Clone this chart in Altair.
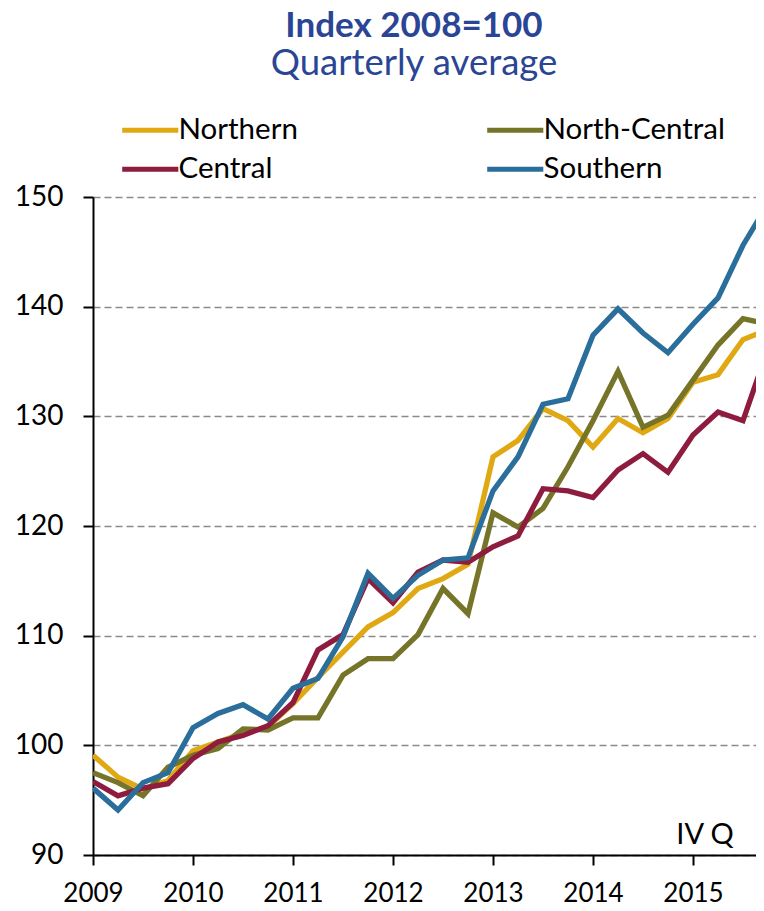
import altair as alt
import pandas as pd

# Quarterly index values, 2009 Q1 .. 2015 Q4
quarters = [2009 + 0.25 * i for i in range(28)]
northern = [99.1, 97.1, 96.0, 96.8, 99.5, 100.3, 101.1, 101.7, 103.8, 106.2, 108.5, 110.8, 112.1, 114.3,
            115.2, 116.5, 126.3, 127.8, 130.7, 129.6, 127.2, 129.8, 128.5, 129.8, 133.1, 133.8, 137.0, 137.9]
north_central = [97.5, 96.6, 95.4, 98.0, 99.1, 99.7, 101.5, 101.4, 102.5, 102.5, 106.4, 107.9, 107.9, 110.1,
                 114.3, 112.0, 121.2, 119.9, 121.6, 125.4, 129.6, 134.1, 129.0, 130.1, 133.3, 136.5, 138.9, 138.4]
central = [96.7, 95.4, 96.1, 96.5, 98.8, 100.3, 100.9, 101.8, 103.9, 108.7, 110.1, 115.2, 113.0, 115.8,
           116.9, 116.7, 118.1, 119.1, 123.4, 123.2, 122.6, 125.1, 126.6, 124.9, 128.3, 130.4, 129.6, 136.2]
southern = [96.1, 94.1, 96.6, 97.5, 101.6, 102.9, 103.7, 102.4, 105.2, 106.1, 109.9, 115.7, 113.4, 115.5,
            116.9, 117.1, 123.2, 126.3, 131.1, 131.6, 137.4, 139.8, 137.6, 135.8, 138.4, 140.8, 145.6, 149.4]

series_names = ["Northern", "North-Central", "Central", "Southern"]
# legend fills column by column: this order gives rows Northern|North-Central, Central|Southern
legend_order = ["Northern", "Central", "North-Central", "Southern"]
legend_colors = ["#E0A913", "#8E1C3E", "#767428", "#2A6E9B"]
year_ticks = [2009, 2010, 2011, 2012, 2013, 2014, 2015]
y_ticks = [90, 100, 110, 120, 130, 140, 150]

note_text = ["IV Q"]
note_x = [2015.12]
note_y = [91.0]

rows = []
for k, (name, vals) in enumerate(zip(series_names, [northern, north_central, central, southern])):
    for q, v in zip(quarters, vals):
        rows.append({"quarter": q, "value": v, "region": name, "layer": k})
df = pd.DataFrame(rows)
notes = pd.DataFrame({"text": note_text, "x": note_x, "y": note_y})

FONT = "Lato"
BLUE = "#2B4595"

x_scale = alt.Scale(domain=[2009, 2015.63], nice=False, zero=False)
y_scale = alt.Scale(domain=[90, 150], nice=False, zero=False)

lines = alt.Chart(df).mark_line(strokeWidth=5.3, clip=True, strokeJoin="miter").encode(
    x=alt.X("quarter:Q", scale=x_scale, title=None,
            axis=alt.Axis(values=year_ticks, format="d", tickSize=10, tickColor="black", tickWidth=2,
                          domainColor="black", domainWidth=2, labelFont=FONT, labelFontSize=26,
                          labelColor="black", labelPadding=15.5, grid=False, labelFlush=False)),
    y=alt.Y("value:Q", scale=y_scale, title=None,
            axis=alt.Axis(values=y_ticks, tickSize=10, tickColor="black", tickWidth=2,
                          domainColor="black", domainWidth=2, labelFont=FONT, labelFontSize=28,
                          labelColor="black", labelPadding=20, grid=True, gridColor="#8A8A8A",
                          gridDash=[7, 4], gridWidth=1.6, labelFlush=False)),
    color=alt.Color("region:N", scale=alt.Scale(domain=legend_order, range=legend_colors),
                    legend=alt.Legend(title=None, orient="none", legendX=42.5, legendY=-82, columns=2,
                                      symbolType="M-5.1,0L5.1,0", symbolStrokeWidth=5, symbolSize=121,
                                      labelFont=FONT, labelFontSize=29.5, labelColor="black",
                                      labelOffset=13.5, columnPadding=178, rowPadding=8.5,
                                      labelLimit=300)),
    detail="layer:O",
    order=alt.Order("quarter:Q"),
)

note = alt.Chart(notes).mark_text(font=FONT, fontSize=29, color="black", align="center",
                                  baseline="alphabetic").encode(
    x=alt.X("x:Q", scale=x_scale), y=alt.Y("y:Q", scale=y_scale), text="text:N")

chart = alt.layer(lines, note).properties(
    width=663, height=658,
    title=alt.Title(text="Index 2008=100", subtitle="Quarterly average", font=FONT, fontSize=35,
                    fontWeight="bold", color=BLUE, subtitleFont=FONT, subtitleFontSize=36.5,
                    subtitleColor=BLUE, anchor="middle", dx=-10.5, offset=33, subtitlePadding=2),
    padding={"left": 6, "top": 0, "right": 0, "bottom": -4.5},
).configure_view(stroke=None)

chart.save("out.html", embed_options={"renderer": "svg", "actions": False})
